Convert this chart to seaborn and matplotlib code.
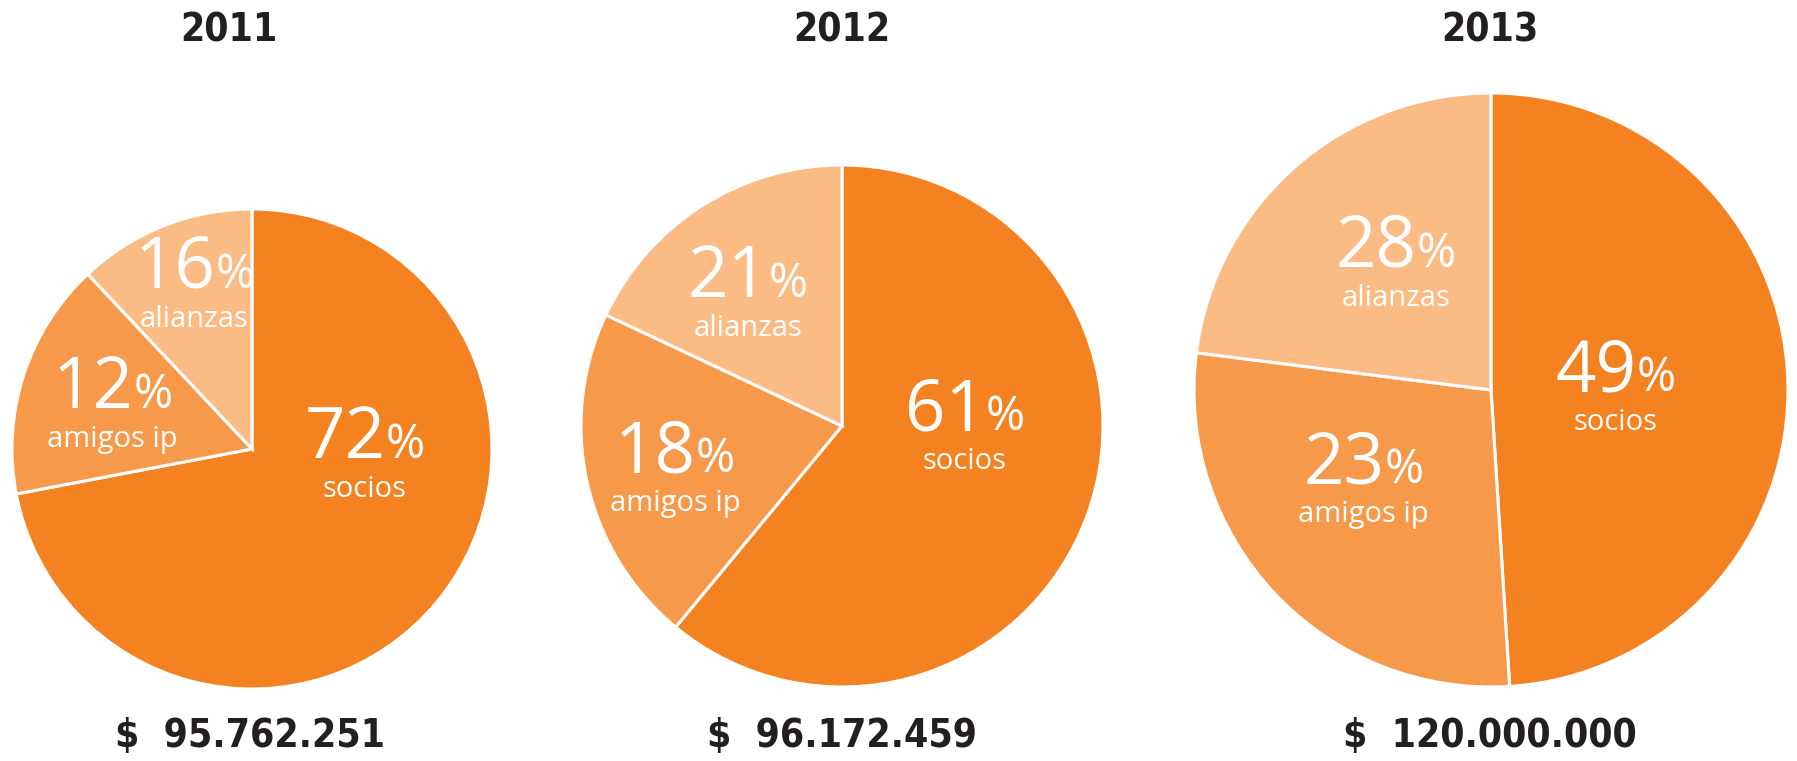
import numpy as np
import pandas as pd
import matplotlib
matplotlib.use("Agg")
import matplotlib.pyplot as plt
import seaborn as sns
from matplotlib import font_manager as fm
from matplotlib.offsetbox import TextArea, HPacker, VPacker, AnnotationBbox

# data
years = ["2011", "2012", "2013"]
categories = ["socios", "amigos ip", "alianzas"]
socios = [72, 61, 49]
amigos = [12, 18, 23]
alianzas = [16, 21, 28]
totals = ["$  95.762.251", "$  96.172.459", "$  120.000.000"]

df = pd.DataFrame({"year": years, "socios": socios, "amigos ip": amigos, "alianzas": alianzas})

sns.set_theme(style="white")
plt.rcParams["font.family"] = ["Open Sans", "DejaVu Sans"]
sans = ["Open Sans", "DejaVu Sans"]


def narrow_bold():
    # pick the most condensed bold face that is installed
    best = None
    for f in fm.fontManager.ttflist:
        st = f.stretch if isinstance(f.stretch, int) else fm.stretch_dict.get(f.stretch, 500)
        wt = f.weight if isinstance(f.weight, int) else fm.weight_dict.get(f.weight, 400)
        if st < 500 and wt >= 600 and f.style == "normal":
            key = (st, abs(wt - 700))
            if best is None or key < best[0]:
                best = (key, f.fname)
    if best is None:
        return fm.FontProperties(family="DejaVu Sans", weight="bold")
    return fm.FontProperties(fname=best[1])


cond = narrow_bold()

# the reference draws the wedges clockwise as socios, then the alianzas value
# (mid orange, labelled amigos ip), then the amigos value (light, labelled alianzas)
colors = ["#F58220", "#F6994B", "#FABB85"]
W, H = 1797, 761

# pie layout in pixels: centre x, centre y, radius
layout = [(252, 449, 240), (842, 426, 261), (1491, 390, 297)]
title_x = [229, 842, 1490]
total_x = [250, 842, 1490]
# label group positions (in radius units) per pie, order = categories
label_pos = [
    [(0.47, -0.02), (-0.58, 0.19), (-0.24, 0.69)],
    [(0.47, 0.00), (-0.64, -0.16), (-0.36, 0.51)],
    [(0.42, 0.01), (-0.43, -0.30), (-0.32, 0.43)],
]

fig = plt.figure(figsize=(W / 100, H / 100), dpi=100)

for i, row in df.iterrows():
    cx, cy, r = layout[i]
    ax = fig.add_axes([(cx - r) / W, (H - cy - r) / H, 2 * r / W, 2 * r / H])
    wedge_vals = [row["socios"], row["alianzas"], row["amigos ip"]]
    wedges, _ = ax.pie(wedge_vals, colors=colors, startangle=90, counterclock=False,
                       radius=1, wedgeprops=dict(edgecolor="white", linewidth=2.2))
    for w in wedges:
        w.set_clip_on(False)
    ax.set_xlim(-1, 1)
    ax.set_ylim(-1, 1)
    ax.axis("off")

    for j, cat in enumerate(categories):
        num = TextArea(str(row[cat]), textprops=dict(color="white", fontsize=51, family=sans))
        pct = TextArea("%", textprops=dict(color="white", fontsize=34, family=sans))
        top = HPacker(children=[num, pct], align="baseline", pad=0, sep=0)
        lab = TextArea(cat, textprops=dict(color="white", fontsize=21, family=sans))
        box = VPacker(children=[top, lab], align="center", pad=0, sep=0)
        ab = AnnotationBbox(box, label_pos[i][j], xycoords="data", frameon=False,
                            box_alignment=(0.5, 0.5), pad=0)
        ax.add_artist(ab)

    fig.text(title_x[i] / W, 1 - 30 / H, row["year"], ha="center", va="center",
             fontsize=28, color="#231F20", fontproperties=cond)
    fig.text(total_x[i] / W, 1 - 736 / H, totals[i], ha="center", va="center",
             fontsize=28, color="#231F20", fontproperties=cond)

fig.savefig("out.png", dpi=100, facecolor="white")
